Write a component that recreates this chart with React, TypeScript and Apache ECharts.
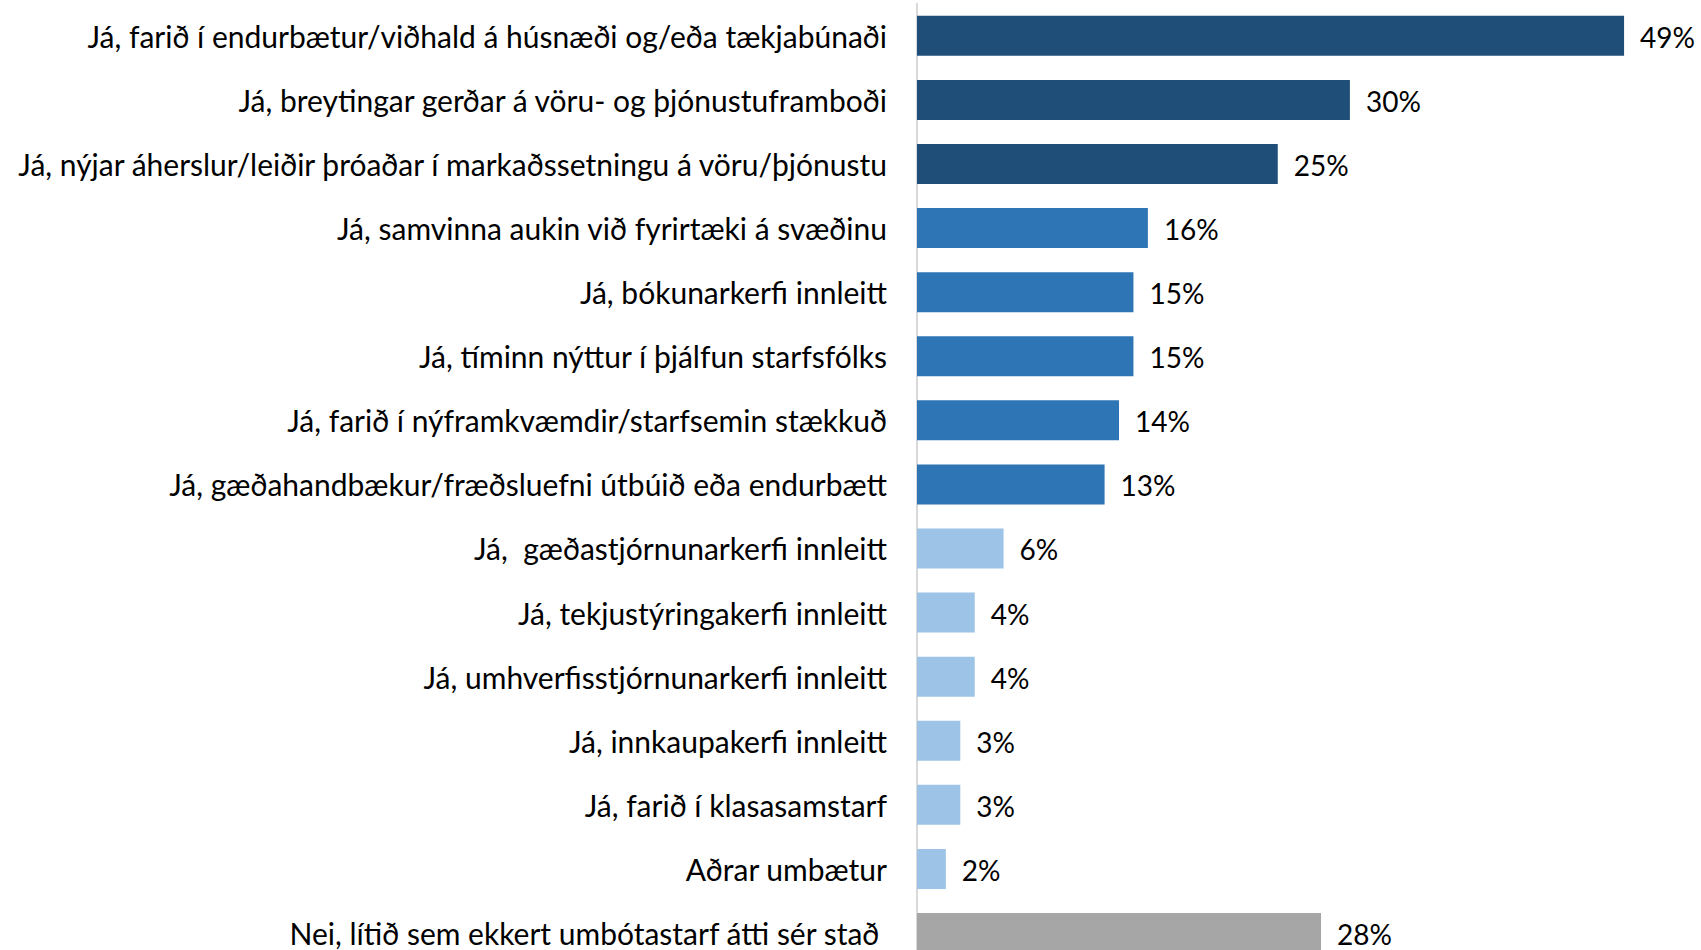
import React, { useEffect, useRef } from "react";
import * as echarts from "echarts";

const categories = [
  "Já, farið í endurbætur/viðhald á húsnæði og/eða tækjabúnaði",
  "Já, breytingar gerðar á vöru- og þjónustuframboði",
  "Já, nýjar áherslur/leiðir þróaðar í markaðssetningu á vöru/þjónustu",
  "Já, samvinna aukin við fyrirtæki á svæðinu",
  "Já, bókunarkerfi innleitt",
  "Já, tíminn nýttur í þjálfun starfsfólks",
  "Já, farið í nýframkvæmdir/starfsemin stækkuð",
  "Já, gæðahandbækur/fræðsluefni útbúið eða endurbætt",
  "Já,  gæðastjórnunarkerfi innleitt",
  "Já, tekjustýringakerfi innleitt",
  "Já, umhverfisstjórnunarkerfi innleitt",
  "Já, innkaupakerfi innleitt",
  "Já, farið í klasasamstarf",
  "Aðrar umbætur",
  "Nei, lítið sem ekkert umbótastarf átti sér stað ",
];

const values = [49, 30, 25, 16, 15, 15, 14, 13, 6, 4, 4, 3, 3, 2, 28];

const groups = [
  "dark", "dark", "dark",
  "mid", "mid", "mid", "mid", "mid",
  "light", "light", "light", "light", "light", "light",
  "gray",
];

const groupColors: Record<string, string> = {
  dark: "#1F4E79",
  mid: "#2E75B6",
  light: "#9DC3E6",
  gray: "#A6A6A6",
};

export default function App() {
  const ref = useRef<HTMLDivElement>(null);
  useEffect(() => {
    if (!ref.current) return;
    const chart = echarts.init(ref.current, null, { renderer: "svg" });
    const font = "Lato, 'Noto Sans', sans-serif";
    chart.setOption({
      animation: false,
      backgroundColor: "#FFFFFF",
      grid: { left: 917, top: 3.8, width: 721.5, height: 961.2, containLabel: false },
      xAxis: {
        type: "value",
        min: 0,
        max: 50,
        show: false,
      },
      yAxis: {
        type: "category",
        inverse: true,
        data: categories,
        axisLine: { show: true, lineStyle: { color: "#D9D9D9", width: 2 } },
        axisTick: { show: false },
        axisLabel: {
          margin: 30,
          fontSize: 30,
          fontFamily: font,
          color: "#000000",
          padding: [0, 0, 4, 0],
        },
      },
      series: [
        {
          type: "bar",
          barWidth: 40,
          data: values.map((v, i) => ({
            value: v,
            itemStyle: { color: groupColors[groups[i]] },
          })),
          label: {
            show: true,
            position: "right",
            distance: 16,
            offset: [0, 1],
            formatter: "{c}%",
            fontSize: 28,
            fontFamily: font,
            color: "#000000",
          },
        },
      ],
    });
    return () => chart.dispose();
  }, []);
  return (
    <div
      ref={ref}
      style={{ position: "fixed", left: 0, top: 0, width: 1701, height: 1000, background: "#fff" }}
    />
  );
}
